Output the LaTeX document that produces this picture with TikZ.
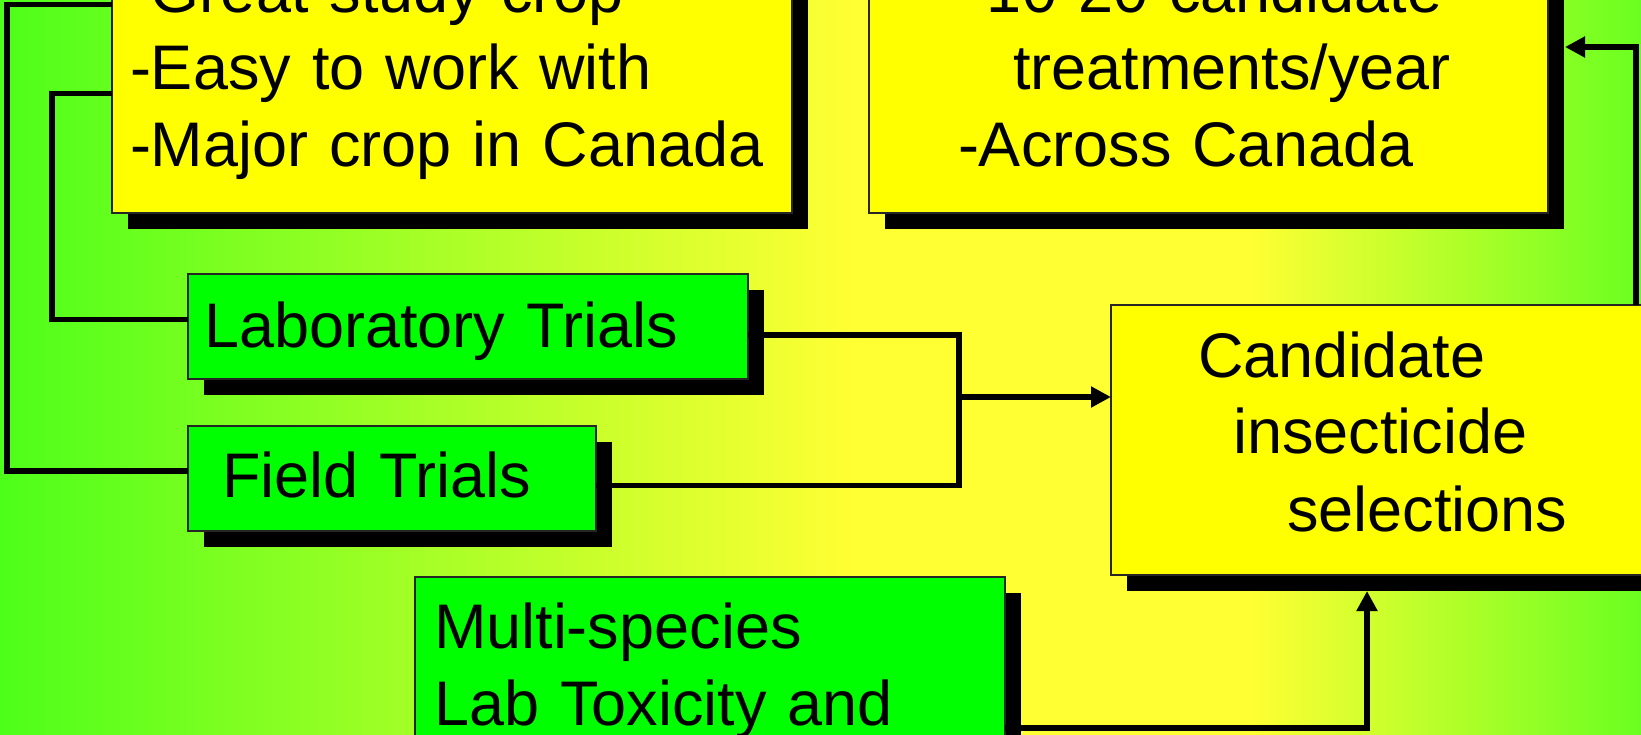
\documentclass[tikz,border=0pt]{standalone}
\usepackage{fontspec}
\setmainfont{Liberation Sans}
\usetikzlibrary{shadows,arrows.meta}

\definecolor{bgleft}{HTML}{4DFF1A}
\definecolor{bgmid}{HTML}{FFFF33}
\definecolor{bgright}{HTML}{6AFF20}
\definecolor{cardyellow}{HTML}{FFFF00}
\definecolor{cardgreen}{HTML}{00FF00}

\tikzset{
  card/.style={rectangle, draw=black!85, line width=1.5pt, anchor=north west,
    outer sep=0pt, inner ysep=0pt, align=left, font=\fontsize{63}{77}\selectfont,
    drop shadow={shadow xshift=16pt, shadow yshift=-16pt, opacity=1, fill=black}},
  yellowcard/.style={card, fill=cardyellow},
  greencard/.style={card, fill=cardgreen},
  link/.style={line width=5.5pt},
  flow/.style={link, -{Triangle[length=20pt,width=20pt]}}
}

\begin{document}
\begin{tikzpicture}[x=1pt, y=-1pt]
\useasboundingbox (0,0) rectangle (1641,735);
\clip (0,0) rectangle (1641,735);
\fill[left color=bgleft, right color=bgmid] (0,0) rectangle (851,735);
\fill[bgmid] (850,0) rectangle (1251,735);
\fill[left color=bgmid, right color=bgright] (1250,0) rectangle (1641,735);

\node[yellowcard, inner xsep=18pt, text width=644pt, text height=83pt, text depth=200pt] (crop) at (112,-70)
  {-Great study crop\\-Easy to work with\\-Major crop in Canada};
\node[yellowcard, inner xsep=89pt, text width=501pt, text height=83pt, text depth=200pt] (treat) at (869,-70)
  {\hspace*{8pt}-10-20 candidate\\\hspace*{55pt}treatments/year\\-Across Canada};
\node[greencard, inner xsep=16pt, text width=528pt, text height=73pt, text depth=32pt] (lab) at (188,274)
  {Laboratory Trials};
\node[greencard, inner xsep=34pt, text width=340pt, text height=71pt, text depth=34pt] (field) at (188,426)
  {Field Trials};
\node[yellowcard, inner xsep=87pt, text width=466pt, text height=72pt, text depth=198pt] (cand) at (1111,305)
  {Candidate\\\hspace*{35pt}insecticide\\\hspace*{89pt}selections};
\node[greencard, inner xsep=19pt, text width=552pt, text height=71pt, text depth=190pt] (multi) at (415,577)
  {Multi-species\\Lab Toxicity and};

\coordinate (join) at (959,397);
\coordinate (candfoot) at (1367,591);
\coordinate (treatside) at (1565,47);

\draw[link] (crop.west |- 0,4.5) -| (7,471) -- (field.west |- 0,471);
\draw[link] (crop.west |- 0,93.5) -| (52,319.5) -- (lab.west |- 0,319.5);
\draw[link] (lab.east |- 0,335) -| (join) |- (field.east |- 0,485.5);
\draw[flow] (join) -- (cand.west |- join);
\draw[flow] (multi.east |- 0,728) -| (candfoot);
\draw[flow] (cand.north -| 1636,0) |- (treatside);
\end{tikzpicture}
\end{document}
